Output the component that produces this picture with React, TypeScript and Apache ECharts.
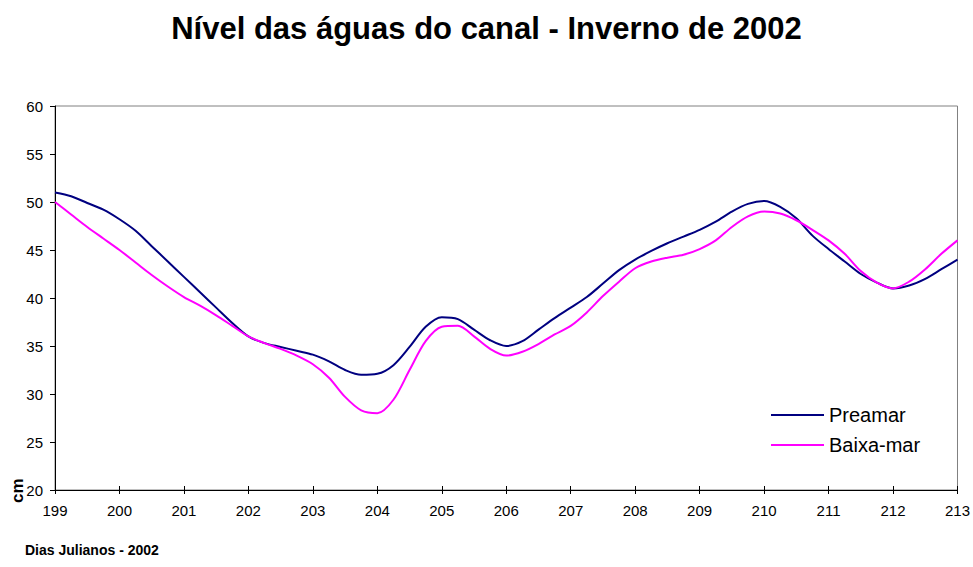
import React, { useEffect, useRef } from "react";
import * as echarts from "echarts";

const days = [
  199.0, 199.25, 199.5, 199.75, 200.0, 200.25, 200.5, 200.75, 201.0, 201.25, 201.5, 201.75,
  202.0, 202.25, 202.5, 202.75, 203.0, 203.25, 203.5, 203.75, 204.0, 204.25, 204.5, 204.75,
  205.0, 205.25, 205.5, 205.75, 206.0, 206.25, 206.5, 206.75, 207.0, 207.25, 207.5, 207.75,
  208.0, 208.25, 208.5, 208.75, 209.0, 209.25, 209.5, 209.75, 210.0, 210.25, 210.5, 210.75,
  211.0, 211.25, 211.5, 211.75, 212.0, 212.25, 212.5, 212.75, 213.0,
];

const preamar = [
  51.0, 50.6, 49.9, 49.2, 48.2, 47.0, 45.4, 43.8, 42.2, 40.6, 39.0, 37.4,
  36.0, 35.3, 34.9, 34.5, 34.1, 33.4, 32.5, 32.0, 32.1, 33.0, 34.9, 37.0,
  38.0, 37.8, 36.7, 35.6, 35.0, 35.5, 36.7, 37.9, 39.0, 40.1, 41.5, 42.9,
  44.0, 44.9, 45.7, 46.4, 47.1, 47.95, 49.0, 49.8, 50.1, 49.5, 48.3, 46.5,
  45.1, 43.8, 42.5, 41.6, 41.0, 41.3, 42.0, 43.0, 44.0,
];

const baixaMar = [
  50.0, 48.7, 47.4, 46.2, 45.0, 43.7, 42.4, 41.2, 40.1, 39.2, 38.2, 37.1,
  36.0, 35.3, 34.7, 34.0, 33.1, 31.7, 29.7, 28.3, 28.0, 29.4, 32.5, 35.5,
  37.0, 37.1, 36.0, 34.7, 34.0, 34.4, 35.2, 36.2, 37.1, 38.5, 40.2, 41.7,
  43.1, 43.8, 44.2, 44.5, 45.1, 46.0, 47.4, 48.5, 49.0, 48.8, 48.1, 47.1,
  46.0, 44.6, 42.8, 41.6, 41.0, 41.7, 43.0, 44.6, 46.0,
];

const titleText = "Nível das águas do canal - Inverno de 2002";
const xAxisTitle = "Dias Julianos - 2002";
const yAxisTitle = "cm";
const seriesNames = ["Preamar", "Baixa-mar"];

const FONT = "Liberation Sans, Arial, sans-serif";

export default function App() {
  const ref = useRef<HTMLDivElement>(null);
  useEffect(() => {
    if (!ref.current) return;
    const chart = echarts.init(ref.current, null, { renderer: "svg" });
    const toPairs = (vals: number[]) => days.map((d, i) => [d, vals[i]]);
    chart.setOption({
      animation: false,
      backgroundColor: "#ffffff",
      title: {
        text: titleText,
        left: "center",
        top: 8,
        textStyle: { fontFamily: FONT, fontWeight: "bold", fontSize: 31, color: "#000" },
      },
      grid: {
        left: 55,
        right: 15,
        top: 106,
        bottom: 77,
        show: true,
        borderColor: "#808080",
        borderWidth: 1,
        backgroundColor: "transparent",
      },
      legend: {
        orient: "vertical",
        left: 771,
        top: 405,
        padding: 0,
        itemWidth: 53,
        itemHeight: 10,
        itemGap: 10,
        icon: "path://M0,4 L53,4 L53,6 L0,6 Z",
        textStyle: { fontFamily: FONT, fontSize: 20, color: "#000" },
        data: seriesNames,
      },
      xAxis: [
        {
          type: "value",
          min: 199,
          max: 213,
          interval: 1,
          axisLine: { lineStyle: { color: "#000", width: 1 } },
          axisTick: { show: true, inside: false, length: 4, lineStyle: { color: "#000" } },
          axisLabel: { fontFamily: FONT, fontSize: 15, color: "#000", margin: 13 },
          splitLine: { show: false },
        },
        {
          type: "value",
          min: 199,
          max: 213,
          interval: 1,
          position: "bottom",
          axisLine: { show: false },
          axisTick: { show: true, inside: true, length: 4, lineStyle: { color: "#000" } },
          axisLabel: { show: false },
          splitLine: { show: false },
        },
      ],
      yAxis: {
        type: "value",
        min: 20,
        max: 60,
        interval: 5,
        axisLine: { show: true, lineStyle: { color: "#000", width: 1 } },
        axisTick: { show: true, inside: false, length: 5, lineStyle: { color: "#000" } },
        axisLabel: { fontFamily: FONT, fontSize: 15, color: "#000", margin: 12 },
        splitLine: { show: false },
      },
      graphic: [
        {
          type: "text",
          x: 9,
          y: 503,
          rotation: Math.PI / 2,
          style: {
            text: yAxisTitle,
            fontFamily: FONT,
            fontWeight: "bold",
            fontSize: 17,
            fill: "#000",
          },
        },
        {
          type: "text",
          x: 25,
          y: 543,
          style: {
            text: xAxisTitle,
            fontFamily: FONT,
            fontWeight: "bold",
            fontSize: 14,
            fill: "#000",
          },
        },
      ],
      series: [
        {
          name: seriesNames[0],
          type: "line",
          data: toPairs(preamar),
          smooth: 0.3,
          showSymbol: false,
          symbol: "none",
          lineStyle: { color: "#000080", width: 2 },
          itemStyle: { color: "#000080" },
        },
        {
          name: seriesNames[1],
          type: "line",
          data: toPairs(baixaMar),
          smooth: 0.3,
          showSymbol: false,
          symbol: "none",
          lineStyle: { color: "#ff00ff", width: 2 },
          itemStyle: { color: "#ff00ff" },
        },
      ],
    });
    return () => chart.dispose();
  }, []);
  return (
    <div
      ref={ref}
      style={{ position: "fixed", left: 0, top: 0, width: 973, height: 567 }}
    />
  );
}
